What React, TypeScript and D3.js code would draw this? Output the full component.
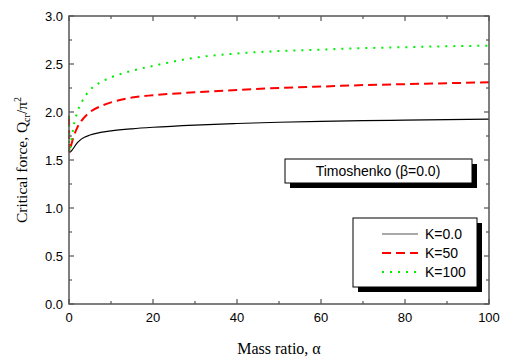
import React, { useEffect, useRef } from 'react';
import * as d3 from 'd3';

// mass ratio grid and critical force curves
const alpha = [0, 0.1, 0.5, 1, 2, 3, 5, 7.5, 10, 15, 20, 30, 40, 50, 60, 70, 80, 90, 100];
const k0 = [1.60, 1.58, 1.59, 1.62, 1.68, 1.72, 1.76, 1.787, 1.803, 1.825, 1.841, 1.864, 1.88, 1.893, 1.903, 1.91, 1.915, 1.92, 1.925];
const k50 = [1.96, 1.58, 1.65, 1.73, 1.84, 1.91, 2.00, 2.06, 2.10, 2.15, 2.175, 2.205, 2.23, 2.25, 2.265, 2.28, 2.29, 2.30, 2.31];
const k100 = [1.95, 1.58, 1.68, 1.83, 2.00, 2.10, 2.23, 2.31, 2.36, 2.43, 2.48, 2.565, 2.61, 2.635, 2.65, 2.665, 2.675, 2.685, 2.69];
const seriesNames = ['K=0.0', 'K=50', 'K=100'];
const xTicks = [0, 20, 40, 60, 80, 100];
const yTicks = [0, 0.5, 1.0, 1.5, 2.0, 2.5, 3.0];

const W = 505;
const H = 360;
const axisColor = '#555';
const sans = 'Arial, "Liberation Sans", sans-serif';
const serif = '"Times New Roman", "Liberation Serif", serif';

const styles = [
  { color: '#000', width: 1.2, dash: null },
  { color: '#ff0000', width: 2, dash: '9,5' },
  { color: '#00ee00', width: 2, dash: '2,6' },
];

export default function App() {
  const ref = useRef<SVGSVGElement>(null);

  useEffect(() => {
    const svg = d3.select(ref.current);
    svg.selectAll('*').remove();

    const x = d3.scaleLinear().domain([0, 100]).range([69, 489]);
    const y = d3.scaleLinear().domain([0, 3]).range([304, 16]);
    const [x0, x1] = x.range();
    const [y0, y1] = y.range();

    // curves
    const line = d3.line<number>()
      .x((d, i) => x(alpha[i]))
      .y(d => y(d))
      .curve(d3.curveMonotoneX);
    const plot = svg.append('g');
    [k0, k50, k100].forEach((s, i) => {
      const st = styles[i];
      plot.append('path')
        .attr('d', line(s))
        .attr('fill', 'none')
        .attr('stroke', st.color)
        .attr('stroke-width', st.width)
        .attr('stroke-dasharray', st.dash);
    });

    // frame with inward ticks
    const axis = svg.append('g').attr('stroke', axisColor);
    axis.append('rect')
      .attr('x', x0).attr('y', y1)
      .attr('width', x1 - x0).attr('height', y0 - y1)
      .attr('fill', 'none').attr('stroke-width', 1.5);
    const xMinor = d3.range(10, 100, 20);
    const yMinor = d3.range(0.25, 3, 0.5);
    const tick = (x1_: number, y1_: number, x2_: number, y2_: number) =>
      axis.append('line').attr('x1', x1_).attr('y1', y1_).attr('x2', x2_).attr('y2', y2_).attr('stroke-width', 1.2);
    xTicks.forEach(t => { tick(x(t), y0, x(t), y0 - 5); tick(x(t), y1, x(t), y1 + 5); });
    xMinor.forEach(t => { tick(x(t), y0, x(t), y0 - 3); tick(x(t), y1, x(t), y1 + 3); });
    yTicks.forEach(t => { tick(x0, y(t), x0 + 5, y(t)); tick(x1, y(t), x1 - 5, y(t)); });
    yMinor.forEach(t => { tick(x0, y(t), x0 + 3, y(t)); tick(x1, y(t), x1 - 3, y(t)); });

    // tick labels
    svg.append('g').selectAll('text').data(xTicks).enter().append('text')
      .attr('x', d => x(d)).attr('y', y0 + 18)
      .attr('text-anchor', 'middle')
      .attr('font-family', sans).attr('font-size', 13)
      .text(d => d);
    svg.append('g').selectAll('text').data(yTicks).enter().append('text')
      .attr('x', x0 - 6).attr('y', d => y(d) + 4.5)
      .attr('text-anchor', 'end')
      .attr('font-family', sans).attr('font-size', 13)
      .text(d => d.toFixed(1));

    // axis titles
    svg.append('text')
      .attr('x', (x0 + x1) / 2).attr('y', 354)
      .attr('text-anchor', 'middle')
      .attr('font-family', serif).attr('font-size', 16)
      .text('Mass ratio, α');
    const yt = svg.append('text')
      .attr('transform', `translate(27 ${(y0 + y1) / 2}) rotate(-90)`)
      .attr('text-anchor', 'middle')
      .attr('font-family', serif).attr('font-size', 15.5);
    yt.append('tspan').text('Critical force, Q');
    yt.append('tspan').attr('font-size', 10).attr('dy', 3).text('cr');
    yt.append('tspan').attr('dy', -3).text('/π');
    yt.append('tspan').attr('font-size', 10).attr('dy', -6).text('2');

    // boxes with drop shadow
    const box = (bx: number, by: number, bw: number, bh: number) => {
      svg.append('rect').attr('x', bx + 5).attr('y', by + 5).attr('width', bw).attr('height', bh).attr('fill', '#000');
      svg.append('rect').attr('x', bx).attr('y', by).attr('width', bw).attr('height', bh)
        .attr('fill', '#fff').attr('stroke', '#000').attr('stroke-width', 1);
    };
    box(285, 159, 187, 24);
    svg.append('text')
      .attr('x', 378).attr('y', 176)
      .attr('text-anchor', 'middle')
      .attr('font-family', sans).attr('font-size', 14)
      .text('Timoshenko (β=0.0)');

    // legend
    box(353, 218, 124, 69);
    seriesNames.forEach((n, i) => {
      const ly = 234 + i * 19;
      const st = styles[i];
      svg.append('line')
        .attr('x1', 382).attr('x2', 418).attr('y1', ly).attr('y2', ly)
        .attr('stroke', i === 0 ? '#555' : st.color)
        .attr('stroke-width', st.width)
        .attr('stroke-dasharray', st.dash);
      svg.append('text')
        .attr('x', 425).attr('y', ly + 5)
        .attr('font-family', sans).attr('font-size', 14)
        .text(n);
    });
  }, []);

  return (
    <svg ref={ref} width={W} height={H}
      style={{ position: 'absolute', left: 0, top: 0, background: '#fff' }} />
  );
}
